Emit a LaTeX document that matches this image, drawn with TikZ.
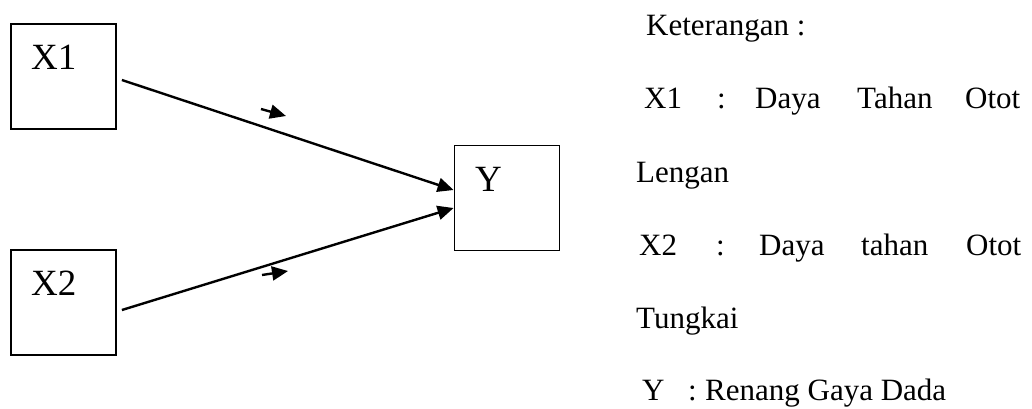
\documentclass[tikz,border=0pt]{standalone}
\usepackage{fontspec}
\setmainfont{Liberation Serif}
\usetikzlibrary{arrows.meta}
\begin{document}
\begin{tikzpicture}[x=1pt,y=-1pt,
  varbox/.style={draw,line width=1.8pt,minimum width=105pt,minimum height=105pt,inner sep=0pt},
  boxtext/.style={anchor=base west,inner sep=0pt,font=\fontsize{37}{37}\selectfont},
  legend/.style={anchor=base west,inner sep=0pt,font=\fontsize{31}{31}\selectfont},
  flow/.style={line width=2.4pt,-{Triangle[length=16pt,width=14pt]}},
  hint/.style={line width=2.4pt,-{Triangle[length=16pt,width=14pt]}}]
\useasboundingbox (0,0) rectangle (1032,408);

% variable boxes
\node[varbox] (x1) at (63.5,76.5) {};
\node[varbox] (x2) at (63.5,302.5) {};
\node[varbox] (y) at (507,198) {};
\node[boxtext] (x1t) at (31,69) {X1};
\node[boxtext] (x2t) at (31,295) {X2};
\node[boxtext] (yt) at (475,191) {Y};

% paths into Y
\draw[flow] ([xshift=5pt,yshift=-3.5pt]x1.east) -- ([yshift=8pt]y.west);
\draw[flow] ([xshift=5pt,yshift=-7.5pt]x2.east) -- ([yshift=-10pt]y.west);

% direction hints
\coordinate (h1a) at (261,109);
\coordinate (h1b) at (286,116);
\coordinate (h2a) at (262,275);
\coordinate (h2b) at (288,271);
\draw[hint] (h1a) -- (h1b);
\draw[hint] (h2a) -- (h2b);

% legend
\node[legend] (k) at (646,35) {Keterangan :};
\node[legend] (l1a) at (644,108) {X1};
\node[legend] (l1b) at (717,108) {:};
\node[legend] (l1c) at (755,108) {Daya};
\node[legend] (l1d) at (857,108) {Tahan};
\node[legend] (l1e) at (965,108) {Otot};
\node[legend] (l2) at (636,182) {Lengan};
\node[legend] (l3a) at (639,255) {X2};
\node[legend] (l3b) at (716,255) {:};
\node[legend] (l3c) at (759,255) {Daya};
\node[legend] (l3d) at (861,255) {tahan};
\node[legend] (l3e) at (966,255) {Otot};
\node[legend] (l4) at (636,328) {Tungkai};
\node[legend] (l5a) at (642,400) {Y};
\node[legend] (l5b) at (688,400) {:};
\node[legend] (l5c) at (705,400) {Renang Gaya Dada};
\end{tikzpicture}
\end{document}
